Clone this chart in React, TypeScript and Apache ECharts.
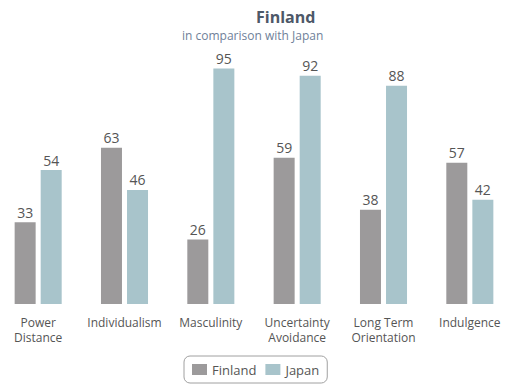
import React, { useEffect, useRef } from "react";
import * as echarts from "echarts";

const categories = ["Power\nDistance", "Individualism", "Masculinity", "Uncertainty\nAvoidance", "Long Term\nOrientation", "Indulgence"];
const finland = [33, 63, 26, 59, 38, 57];
const japan = [54, 46, 95, 92, 88, 42];
const FONT = "'Open Sans', 'DejaVu Sans', sans-serif";

export default function App() {
  const ref = useRef<HTMLDivElement>(null);
  useEffect(() => {
    const chart = echarts.init(ref.current!, null, { renderer: "svg" });
    chart.setOption({
      animation: false,
      textStyle: { fontFamily: FONT },
      title: [
        { text: "Finland", left: 261, top: 9, padding: 0, textStyle: { fontSize: 16, fontWeight: "bold", color: "#4d5868", fontFamily: FONT } },
        { text: "in comparison with Japan", left: 187, top: 29, padding: 0, textStyle: { fontSize: 12, fontWeight: "normal", color: "#6f7f99", fontFamily: FONT } },
      ],
      legend: {
        left: 189,
        top: 356,
        padding: [7, 8, 7, 8],
        borderColor: "#a0a0a0",
        borderWidth: 1,
        borderRadius: 6,
        itemWidth: 15,
        itemHeight: 11,
        itemGap: 9,
        icon: "rect",
        textStyle: { fontSize: 13, color: "#555", fontFamily: FONT },
        data: ["Finland", "Japan"],
      },
      grid: { left: 0, right: 10, top: 56, bottom: 88, containLabel: false },
      xAxis: {
        type: "category",
        data: categories,
        axisLine: { show: false },
        axisTick: { show: false },
        axisLabel: { interval: 0, margin: 11, fontSize: 12, lineHeight: 15, color: "#555", fontFamily: FONT },
      },
      yAxis: { type: "value", min: 0, max: 100, show: false, splitLine: { show: false } },
      series: [
        {
          name: "Finland",
          type: "bar",
          data: finland,
          barWidth: 21,
          barGap: "24%",
          itemStyle: { color: "#9c9a9b" },
          label: { show: true, position: "top", distance: 3, fontSize: 14, color: "#555", fontFamily: FONT },
        },
        {
          name: "Japan",
          type: "bar",
          data: japan,
          barWidth: 21,
          itemStyle: { color: "#a8c4cb" },
          label: { show: true, position: "top", distance: 3, fontSize: 14, color: "#555", fontFamily: FONT },
        },
      ],
    });
    return () => chart.dispose();
  }, []);
  return <div ref={ref} style={{ width: 528, height: 392, position: "absolute", left: -5, top: 0 }} />;
}
